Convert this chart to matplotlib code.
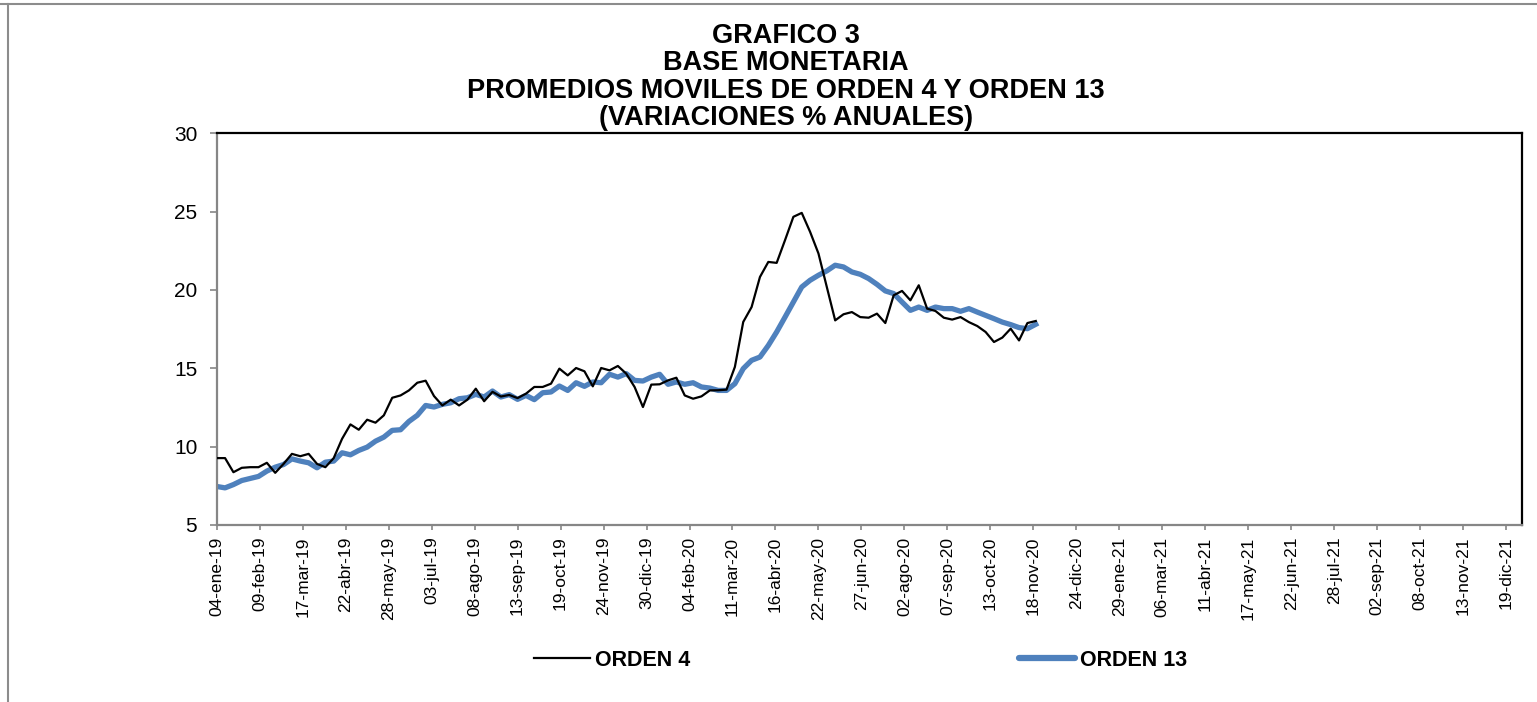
import matplotlib
matplotlib.use('Agg')
import matplotlib.pyplot as plt
from matplotlib.lines import Line2D
import pandas as pd

plt.rcParams['font.family'] = ['Liberation Sans', 'DejaVu Sans']

# datos semanales desde el 04-ene-19
fecha_inicio = '2019-01-04'

orden4 = [9.27, 9.27, 8.37, 8.65, 8.69, 8.69, 8.97, 8.33, 8.90, 9.54,
          9.39, 9.54, 8.90, 8.69, 9.27, 10.50, 11.42, 11.08, 11.72, 11.53,
          12.00, 13.12, 13.27, 13.59, 14.08, 14.21, 13.23, 12.63, 13.00, 12.63,
          13.00, 13.70, 12.90, 13.50, 13.20, 13.30, 13.10, 13.38, 13.81, 13.81,
          14.02, 14.98, 14.55, 15.02, 14.81, 13.85, 15.02, 14.87, 15.15, 14.66,
          13.81, 12.53, 13.96, 13.98, 14.23, 14.40, 13.27, 13.06, 13.21, 13.59,
          13.60, 13.64, 15.09, 17.96, 18.91, 20.83, 21.79, 21.73, 23.18, 24.67,
          24.92, 23.71, 22.33, 20.19, 18.06, 18.45, 18.59, 18.27, 18.23, 18.49,
          17.89, 19.66, 19.94, 19.34, 20.30, 18.81, 18.66, 18.23, 18.11, 18.27,
          17.95, 17.70, 17.32, 16.68, 16.96, 17.53, 16.78, 17.89, 18.02]

orden13 = [7.46, 7.37, 7.58, 7.84, 7.97, 8.10, 8.44, 8.69, 8.86, 9.22,
           9.08, 8.97, 8.65, 9.01, 9.08, 9.61, 9.48, 9.76, 9.97, 10.35,
           10.61, 11.04, 11.08, 11.61, 12.00, 12.63, 12.53, 12.70, 12.80, 13.06,
           13.12, 13.34, 13.17, 13.55, 13.17, 13.32, 13.02, 13.27, 13.00, 13.44,
           13.49, 13.87, 13.59, 14.08, 13.85, 14.13, 14.08, 14.62, 14.44, 14.66,
           14.23, 14.19, 14.44, 14.62, 13.98, 14.13, 13.98, 14.08, 13.81, 13.74,
           13.59, 13.59, 14.02, 14.98, 15.51, 15.72, 16.46, 17.32, 18.27, 19.23,
           20.19, 20.62, 20.94, 21.22, 21.58, 21.47, 21.15, 21.00, 20.73, 20.36,
           19.94, 19.77, 19.23, 18.70, 18.91, 18.70, 18.91, 18.81, 18.81, 18.64,
           18.81, 18.59, 18.38, 18.17, 17.95, 17.79, 17.60, 17.53, 17.81]

tick_labels = ['04-ene-19', '09-feb-19', '17-mar-19', '22-abr-19', '28-may-19',
               '03-jul-19', '08-ago-19', '13-sep-19', '19-oct-19', '24-nov-19',
               '30-dic-19', '04-feb-20', '11-mar-20', '16-abr-20', '22-may-20',
               '27-jun-20', '02-ago-20', '07-sep-20', '13-oct-20', '18-nov-20',
               '24-dic-20', '29-ene-21', '06-mar-21', '11-abr-21', '17-may-21',
               '22-jun-21', '28-jul-21', '02-sep-21', '08-oct-21', '13-nov-21',
               '19-dic-21']

titulo = ['GRAFICO 3', 'BASE MONETARIA',
          'PROMEDIOS MOVILES DE ORDEN 4 Y ORDEN 13',
          '(VARIACIONES % ANUALES)']

meses = {'ene': 1, 'feb': 2, 'mar': 3, 'abr': 4, 'may': 5, 'jun': 6,
         'jul': 7, 'ago': 8, 'sep': 9, 'oct': 10, 'nov': 11, 'dic': 12}


def parse_fecha(s):
    d, m, y = s.split('-')
    return pd.Timestamp(2000 + int(y), meses[m], int(d))


fechas = pd.date_range(fecha_inicio, periods=len(orden4), freq='7D')
tick_pos = [parse_fecha(s) for s in tick_labels]

W, H = 1537, 702
fig = plt.figure(figsize=(W / 100, H / 100), dpi=100)
ax = fig.add_axes([216.7 / W, 1 - 525 / H, (1521.7 - 216.7) / W, (525 - 133.3) / H])

ax.plot(fechas, orden4, color='black', lw=1.6, label='ORDEN 4', zorder=3)
ax.plot(fechas, orden13, color='#4F81BD', lw=3.8, label='ORDEN 13', zorder=2)

ax.set_xlim(pd.Timestamp('2019-01-04'), pd.Timestamp('2022-01-01'))
ax.set_ylim(5, 30)
ax.set_yticks([5, 10, 15, 20, 25, 30])
ax.set_xticks(tick_pos)
ax.set_xticklabels(tick_labels, rotation=90, fontsize=12.5)
ax.tick_params(axis='y', labelsize=15, length=5, width=1.2, color='#868686', pad=9)
ax.tick_params(axis='x', length=3.8, width=1.2, color='#868686', pad=4.5)

for s in ['left', 'bottom']:
    ax.spines[s].set_color('#868686')
    ax.spines[s].set_linewidth(1.6)
for s in ['top', 'right']:
    ax.spines[s].set_color('black')
    ax.spines[s].set_linewidth(1.6)

# titulo en cuatro lineas
ys = [36, 63, 90.5, 118]
for t, y in zip(titulo, ys):
    fig.text(786 / W, 1 - y / H, t, ha='center', va='center',
             fontsize=19.5, fontweight='bold')

# leyenda
h4 = Line2D([], [], color='black', lw=1.6)
h13 = Line2D([], [], color='#4F81BD', lw=4.5, solid_capstyle='round')
for h, lab, x0 in [(h4, 'ORDEN 4', 534), (h13, 'ORDEN 13', 1019)]:
    fig.legend(handles=[h], labels=[lab], loc='center left',
               bbox_to_anchor=(x0 / W, 1 - 660 / H), frameon=False,
               borderpad=0, borderaxespad=0, handlelength=2.6,
               handletextpad=0.25,
               prop={'weight': 'bold', 'size': 15.5})

# marco exterior
fig.add_artist(Line2D([0, 1], [1 - 4 / H, 1 - 4 / H], transform=fig.transFigure,
                      color='#8c8c8c', lw=1.5))
fig.add_artist(Line2D([8 / W, 8 / W], [0, 1 - 4 / H], transform=fig.transFigure,
                      color='#8c8c8c', lw=1.5))

fig.savefig('out.png', dpi=100)
